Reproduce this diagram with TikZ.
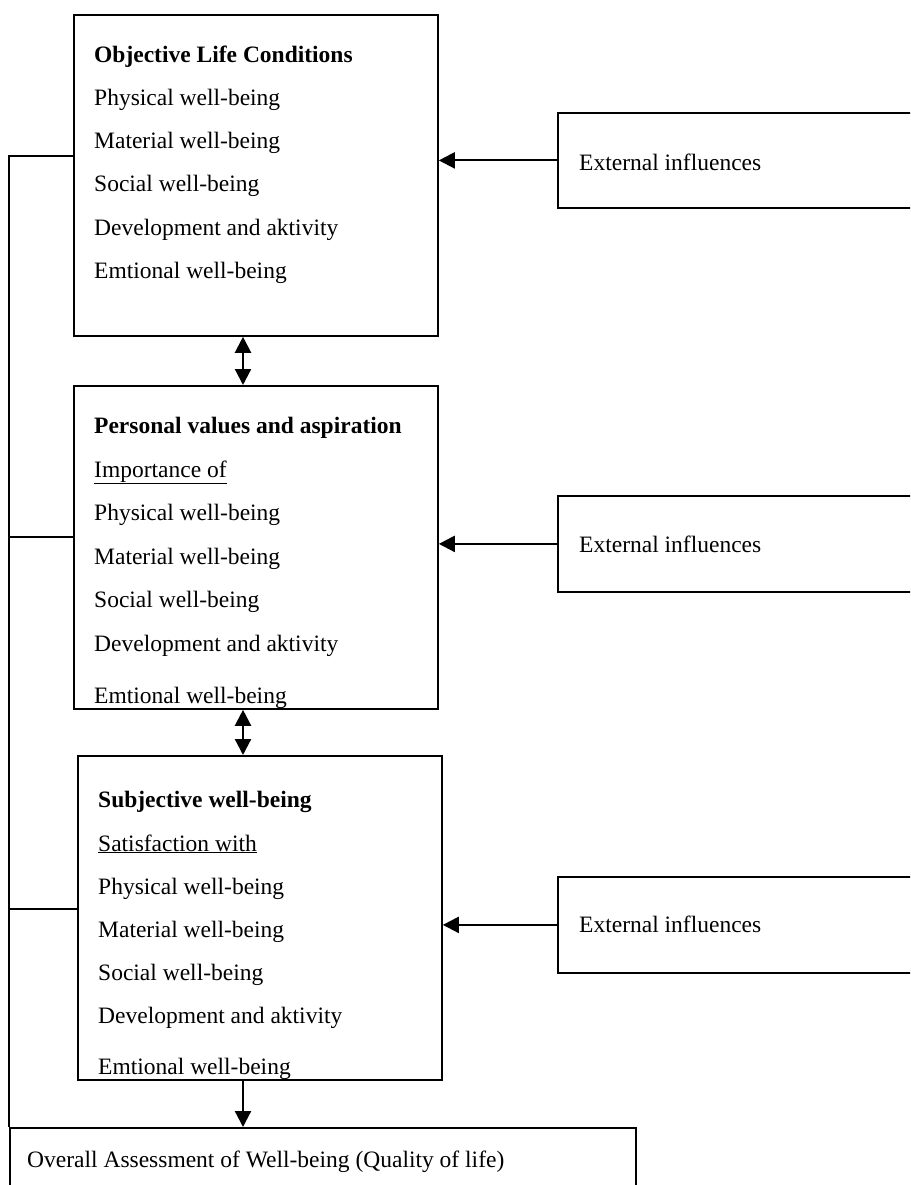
\documentclass[tikz,border=0pt]{standalone}
\usepackage{fontspec}
\setmainfont{Liberation Serif}
\usetikzlibrary{arrows.meta}
\usetikzlibrary{positioning}
\tikzset{%
  qolbox/.style={rectangle,draw,line width=1.8pt,anchor=north west,inner sep=0pt}
}
\tikzset{%
  qoltext/.style={anchor=base west,inner sep=0pt}
}
\tikzset{%
  qolarrow/.style={-{Triangle[length=16pt,width=16pt]},line width=2.2pt},
  qoltwoway/.style={{Triangle[length=16pt,width=16pt]}-{Triangle[length=16pt,width=16pt]},line width=2.2pt},
  qolline/.style={line width=1.8pt}
}

\begin{document}
\begin{tikzpicture}[x=1pt,y=-1pt,font=\fontsize{23.5pt}{28pt}\selectfont]
            \useasboundingbox (0,0) rectangle (910,1185);
            \clip (0,0) rectangle (910,1185);

            \node[qolbox,minimum width=364pt,minimum height=321pt](objbox) at (73,14){};
            \node[qoltext](objtitle) at (94,63){\textbf{Objective Life Conditions}};
            \foreach \t/\yy [count=\i] in {Physical well-being/106,Material well-being/149,Social well-being/192,Development and aktivity/235,Emtional well-being/278}
                \node[qoltext](obj\i) at (94,\yy){\t};

            \node[qolbox,minimum width=364pt,minimum height=323pt](valbox) at (73,385){};
            \node[qoltext](valtitle) at (94,433){\textbf{Personal values and aspiration}};
            \node[qoltext](valsub) at (94,477){\underline{Importance of}};
            \foreach \t/\yy [count=\i] in {Physical well-being/520,Material well-being/564,Social well-being/607,Development and aktivity/651,Emtional well-being/703}
                \node[qoltext](val\i) at (94,\yy){\t};

            \node[qolbox,minimum width=364pt,minimum height=324pt](subbox) at (77,755){};
            \node[qoltext](subtitle) at (98,807){\textbf{Subjective well-being}};
            \node[qoltext](subsub) at (98,851){\underline{Satisfaction with}};
            \foreach \t/\yy [count=\i] in {Physical well-being/894,Material well-being/937,Social well-being/980,Development and aktivity/1023,Emtional well-being/1074}
                \node[qoltext](sub\i) at (98,\yy){\t};

            \node[qolbox,minimum width=626pt,minimum height=120pt](overall) at (9,1127){};
            \node[qoltext](overalltext) at (27,1167){Overall Assessment of Well-being (Quality of life)};

            \node[qolbox,minimum width=400pt,minimum height=95pt](extobj) at (557,112){};
            \node[qoltext](extobjtext) at (579,171){External influences};
            \node[qolbox,minimum width=400pt,minimum height=96pt](extval) at (557,495){};
            \node[qoltext](extvaltext) at (579,552){External influences};
            \node[qolbox,minimum width=400pt,minimum height=96pt](extsub) at (557,876){};
            \node[qoltext](extsubtext) at (579,932){External influences};

            \draw[qolarrow] (extobj.west) -- (extobj.west -| objbox.east);
            \draw[qolarrow] (extval.west) -- (extval.west -| valbox.east);
            \draw[qolarrow] (extsub.west) -- (extsub.west -| subbox.east);

            \coordinate (spine) at (243,0);
            \draw[qoltwoway] (objbox.south -| spine) -- (valbox.north -| spine);
            \draw[qoltwoway] (valbox.south -| spine) -- (subbox.north -| spine);
            \draw[qolarrow] (subbox.south -| spine) -- (overall.north -| spine);

            \draw[qolline] ([yshift=19.5pt]objbox.west) -| (overall.north west);
            \draw[qolline] ([yshift=10.5pt]valbox.west) -- ([yshift=10.5pt]valbox.west -| overall.west);
            \draw[qolline] ([yshift=9pt]subbox.west) -- ([yshift=9pt]subbox.west -| overall.west);
        \end{tikzpicture}
\end{document}
